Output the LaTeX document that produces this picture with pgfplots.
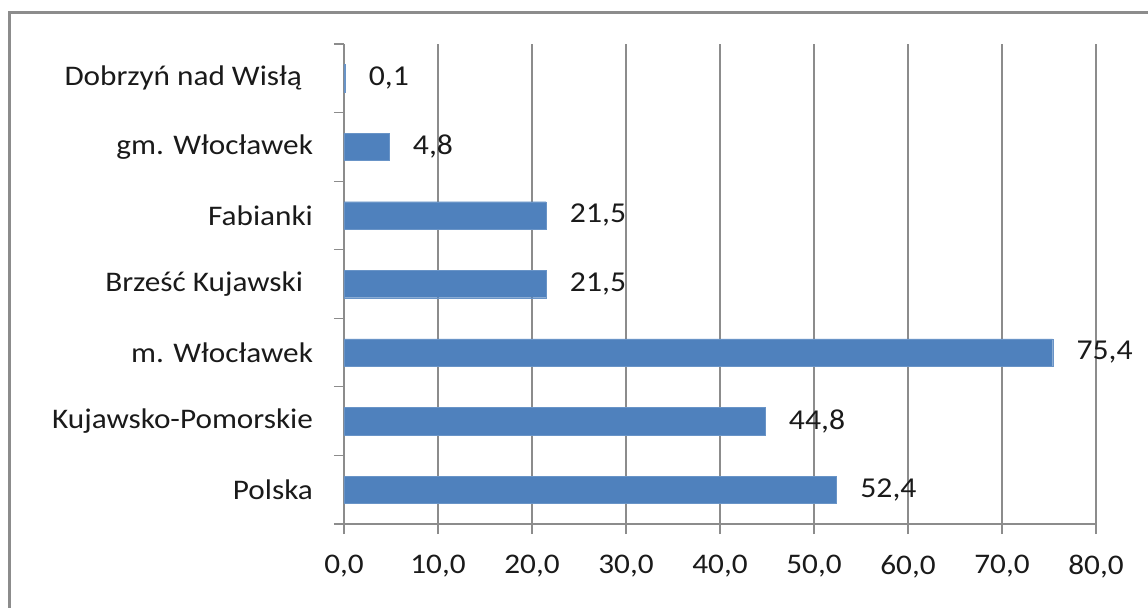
\documentclass[border=0pt]{standalone}
\usepackage{pgfplots}
\pgfplotsset{compat=1.18}
\usepackage{fontspec}
\setmainfont{Carlito}[FakeStretch=1.1]
\definecolor{barblue}{HTML}{4F81BD}
\definecolor{gridgray}{HTML}{8C8C8C}
\definecolor{txt}{HTML}{1A1A1A}
\begin{document}
\begin{tikzpicture}
\path[use as bounding box] (0,0) rectangle (574pt,303.5pt);
\clip (0,0) rectangle (574pt,303.5pt);
\draw[gridgray, line width=1.5pt] (4.7pt,-20pt) -- (4.7pt,297.5pt) -- (600pt,297.5pt);
\begin{axis}[
  at={(172pt,41.5pt)}, anchor=south west,
  scale only axis, width=376pt, height=240pt,
  xbar, bar width=0.4,
  xmin=0, xmax=80, ymin=-0.5, ymax=6.5,
  xtick={0,10,...,80},
  xticklabel={\pgfmathprintnumber[fixed,zerofill,precision=1,use comma]{\tick}},
  /pgf/number format/assume math mode=true,
  xmajorgrids, grid style={gridgray, line width=0.6pt},
  axis line style={gridgray, line width=0.6pt},
  tick style={gridgray, line width=0.6pt},
  tick align=outside, major tick length=5pt,
  xtick pos=bottom, ytick pos=left,
  axis x line*=bottom, axis y line*=left,
  ytick={-0.5,0.5,...,6.5}, yticklabels={},
  extra y ticks={0,1,2,3,4,5,6},
  extra y tick labels={Polska,Kujawsko-Pomorskie,m. Włocławek,Brześć Kujawski\kern5pt\mbox{},Fabianki,gm. Włocławek,Dobrzyń nad Wisłą\kern5.5pt\mbox{}},
  extra y tick style={major tick length=0pt, yticklabel style={xshift=-12pt}},
  ticklabel style={font=\fontsize{14.2}{16}\selectfont, text=txt},
  xticklabel style={yshift=-7pt},
  nodes near coords,
  nodes near coords style={font=\fontsize{14.4}{16}\selectfont, text=txt, anchor=west, xshift=8.5pt,
    /pgf/number format/.cd, fixed, zerofill, precision=1, use comma, assume math mode=true},
]
\addplot[fill=barblue, draw=barblue!85!white, line width=0.2pt] coordinates {
  (52.4,0) (44.8,1) (75.4,2) (21.5,3) (21.5,4) (4.8,5) (0.1,6)
};
\end{axis}
\end{tikzpicture}
\end{document}
